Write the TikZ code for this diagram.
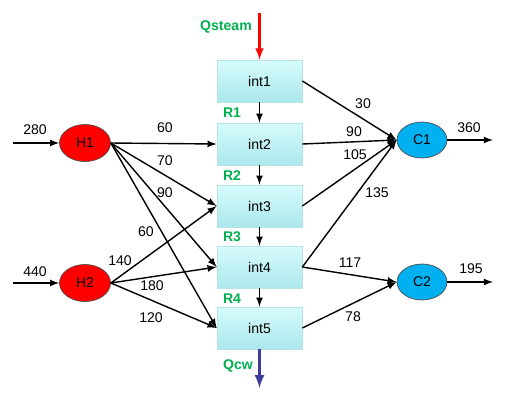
\documentclass[tikz,border=0pt]{standalone}
\usepackage{fontspec}
\setmainfont{Liberation Sans}
\usetikzlibrary{shapes.geometric,shadows}

\definecolor{boxtop}{HTML}{D6FBFD}
\definecolor{boxbot}{HTML}{ABE8EC}
\definecolor{boxline}{HTML}{B5E3E6}
\definecolor{hotred}{HTML}{FF0000}
\definecolor{coldblue}{HTML}{00B0F0}
\definecolor{labgreen}{HTML}{00B050}
\definecolor{cwblue}{HTML}{3C3C9C}

\begin{document}
\begin{tikzpicture}[x=0.02cm, y=-0.02cm, >=latex, line width=0.8pt,
		font=\fontsize{8}{10}\selectfont,
		interval/.style={rectangle, draw=boxline, line width=0.4pt, top color=boxtop, bottom color=boxbot,
			minimum width=1.7cm, minimum height=0.84cm,
			drop shadow={opacity=0.2, shadow xshift=0.7pt, shadow yshift=-0.7pt}},
		hot/.style={ellipse, draw=black!70, line width=0.4pt, fill=hotred, minimum width=1.02cm, minimum height=0.74cm},
		cold/.style={ellipse, draw=black!70, line width=0.4pt, fill=coldblue, minimum width=1cm, minimum height=0.72cm},
		gl/.style={text=labgreen, font=\fontsize{8}{10}\selectfont\bfseries}]

			\useasboundingbox (0,0) rectangle (511,400);

			% temperature intervals
			\node[interval] (int1) at (259.5,81) {int1};
			\node[interval] (int2) at (259.5,144) {int2};
			\node[interval] (int3) at (259.5,206) {int3};
			\node[interval] (int4) at (259.5,267) {int4};
			\node[interval] (int5) at (259.5,328) {int5};

			% hot streams
			\node[hot] (H1) at (85,143) {H1};
			\node[hot] (H2) at (85,283) {H2};

			% cold streams
			\node[cold] (C1) at (422,140) {C1};
			\node[cold] (C2) at (422,282) {C2};

			% free ends
			\coordinate (inH1) at (13,143);
			\coordinate (inH2) at (13,283);
			\coordinate (outC1) at (493,140);
			\coordinate (outC2) at (493,282);
			\coordinate (steam) at (259.5,13);
			\coordinate (cw) at (259.5,388);

			% utilities
			\draw [->, red, line width=1.2pt] (steam) -- (int1.north);
			\draw [->, cwblue, line width=1.5pt] (int5.south) -- (cw);
			\node[gl] (Qsteam) at (226,27) {Qsteam};
			\node[gl] (Qcw) at (238,366) {Qcw};

			% residuals
			\draw [->] (int1.south) -- (int2.north);
			\draw [->] (int2.south) -- (int3.north);
			\draw [->] (int3.south) -- (int4.north);
			\draw [->] (int4.south) -- (int5.north);
			\node[gl] (R1) at (232,113) {R1};
			\node[gl] (R2) at (232,176) {R2};
			\node[gl] (R3) at (232,237) {R3};
			\node[gl] (R4) at (232,299) {R4};

			% supplies and demands
			\draw [->] (inH1) -- (H1.west);
			\draw [->] (inH2) -- (H2.west);
			\draw [->] (C1.east) -- (outC1);
			\draw [->] (C2.east) -- (outC2);
			\node (q280) at (35,130) {280};
			\node (q440) at (35,272) {440};
			\node (q360) at (469,128) {360};
			\node (q195) at (471,269) {195};

			% H1 into intervals
			\draw [->] (H1.east) -- (int2.west);
			\draw [->] (H1.east) -- (int3.west);
			\draw [->] (H1.east) -- (int4.west);
			\draw [->] (H1.east) -- (int5.west);
			\node (h1a) at (165,128) {60};
			\node (h1b) at (165,161) {70};
			\node (h1c) at (165,193) {90};
			\node (h1d) at (146,232) {60};

			% H2 into intervals
			\draw [->] (H2.east) -- (int3.west);
			\draw [->] (H2.east) -- (int4.west);
			\draw [->] (H2.east) -- (int5.west);
			\node (h2a) at (120,261) {140};
			\node (h2b) at (152,286) {180};
			\node (h2c) at (151,318) {120};

			% intervals into C1 and C2
			\draw [->] (int1.east) -- (C1.west);
			\draw [->] (int2.east) -- (C1.west);
			\draw [->] (int3.east) -- (C1.west);
			\draw [->] (int4.east) -- (C1.west);
			\draw [->] (int4.east) -- (C2.west);
			\draw [->] (int5.east) -- (C2.west);
			\node (c1a) at (363,104) {30};
			\node (c1b) at (354,132) {90};
			\node (c1c) at (355,155) {105};
			\node (c1d) at (377,193) {135};
			\node (c2a) at (350,263) {117};
			\node (c2b) at (353,317) {78};

		\end{tikzpicture}
\end{document}
